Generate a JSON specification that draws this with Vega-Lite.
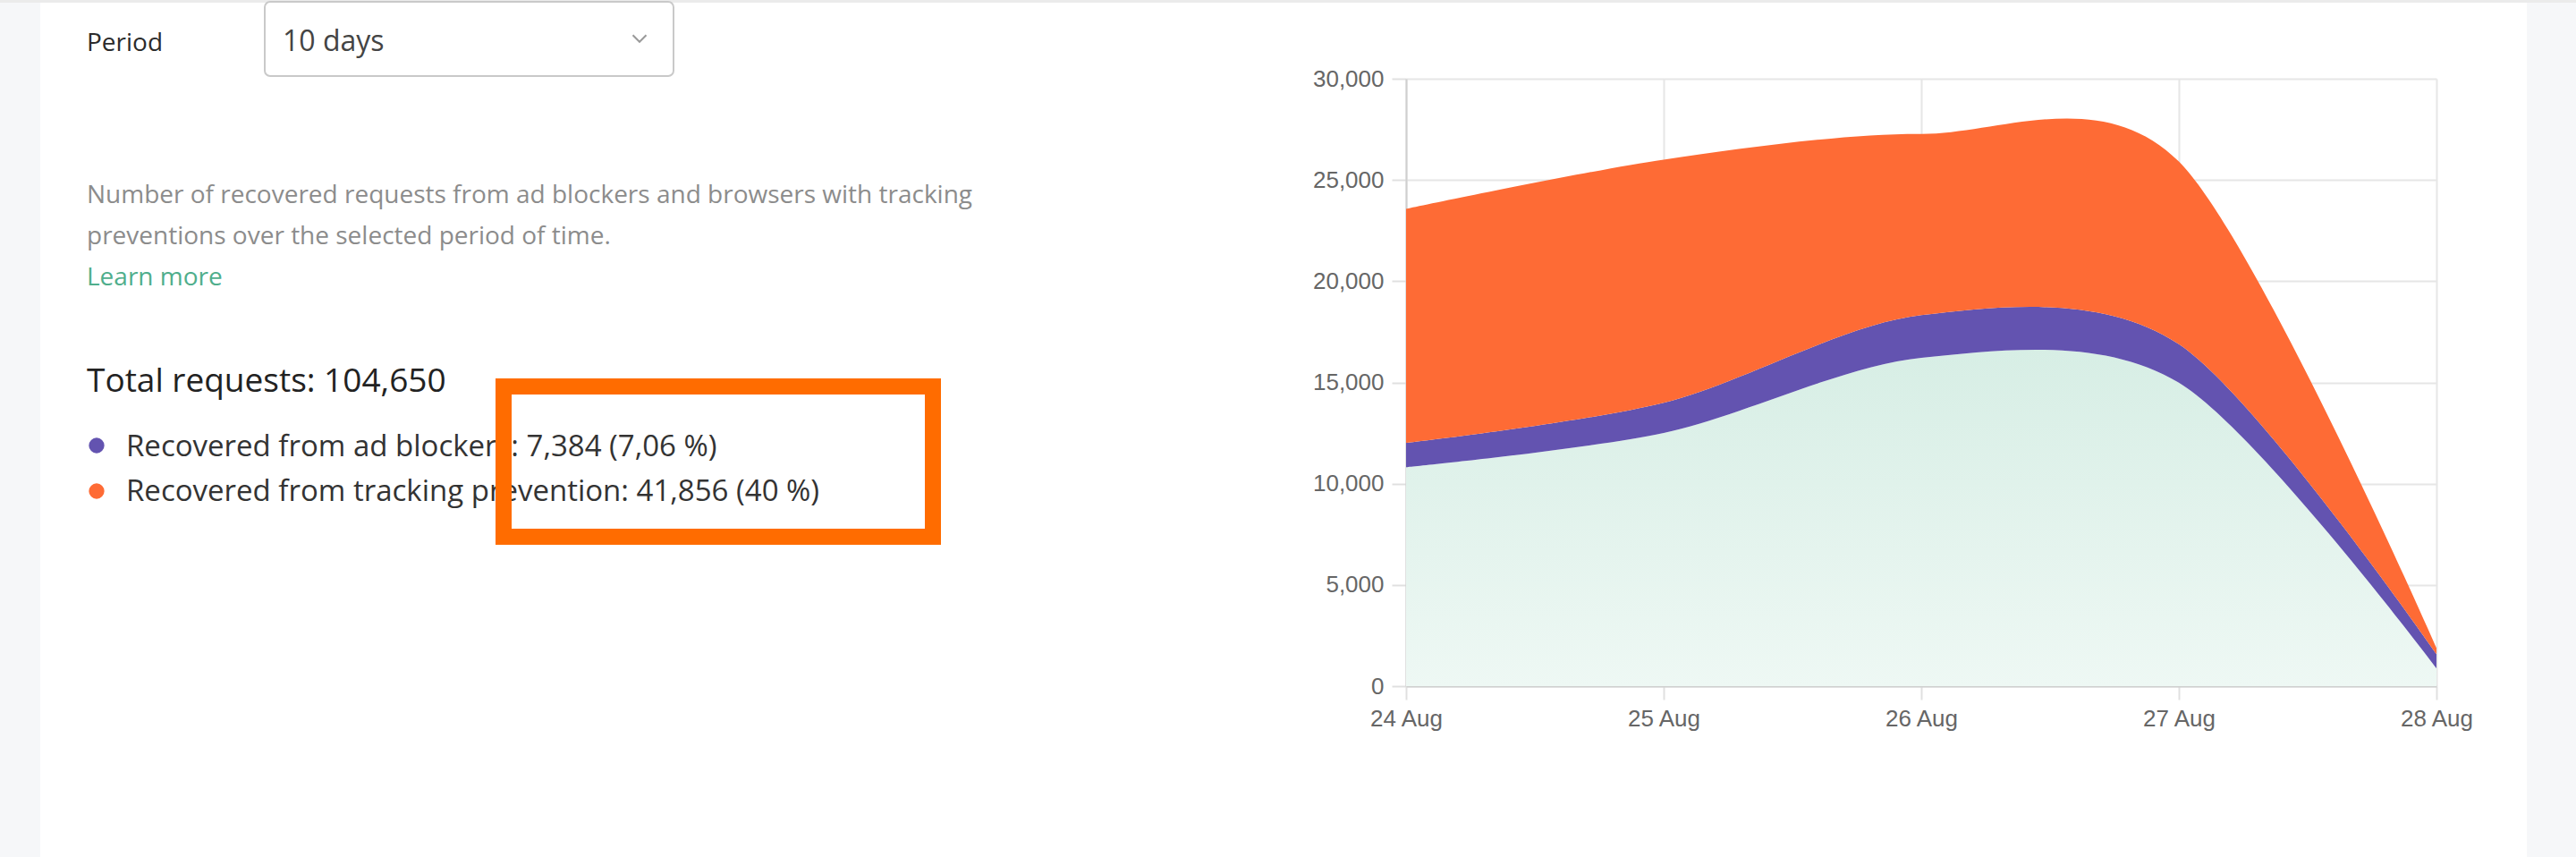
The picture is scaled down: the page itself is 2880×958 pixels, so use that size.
{
  "$schema": "https://vega.github.io/schema/vega-lite/v6.json",
  "background": "#ffffff",
  "autosize": {"type": "none"},
  "width": 1152,
  "height": 679,
  "padding": {"left": 1572, "top": 88, "right": 156, "bottom": 191},
  "config": {"view": {"stroke": null}},
  "datasets": {
    "traffic": [
      {"date": "2023-08-24T00:00:00", "series": "Other requests", "requests": 10812},
      {"date": "2023-08-25T00:00:00", "series": "Other requests", "requests": 12506},
      {"date": "2023-08-26T00:00:00", "series": "Other requests", "requests": 16218},
      {"date": "2023-08-27T00:00:00", "series": "Other requests", "requests": 14985},
      {"date": "2023-08-28T00:00:00", "series": "Other requests", "requests": 889},
      {"date": "2023-08-24T00:00:00", "series": "Recovered from ad blockers", "requests": 1195},
      {"date": "2023-08-25T00:00:00", "series": "Recovered from ad blockers", "requests": 1488},
      {"date": "2023-08-26T00:00:00", "series": "Recovered from ad blockers", "requests": 2104},
      {"date": "2023-08-27T00:00:00", "series": "Recovered from ad blockers", "requests": 1903},
      {"date": "2023-08-28T00:00:00", "series": "Recovered from ad blockers", "requests": 694},
      {"date": "2023-08-24T00:00:00", "series": "Recovered from tracking prevention", "requests": 11560},
      {"date": "2023-08-25T00:00:00", "series": "Recovered from tracking prevention", "requests": 12010},
      {"date": "2023-08-26T00:00:00", "series": "Recovered from tracking prevention", "requests": 8950},
      {"date": "2023-08-27T00:00:00", "series": "Recovered from tracking prevention", "requests": 9020},
      {"date": "2023-08-28T00:00:00", "series": "Recovered from tracking prevention", "requests": 316}
    ],
    "panel_text": [
      {"kind": "label", "text": "Period", "col": 2, "row": 4},
      {"kind": "select", "text": "10 days", "col": 6, "row": 4},
      {"kind": "description", "text": "Number of recovered requests from ad blockers and browsers with tracking", "col": 2, "row": 6},
      {"kind": "description", "text": "preventions over the selected period of time.", "col": 2, "row": 7},
      {"kind": "link", "text": "Learn more", "col": 2, "row": 8},
      {"kind": "total", "text": "Total requests: 104,650", "col": 2, "row": 10},
      {"kind": "stat", "text": "Recovered from ad blockers: 7,384 (7,06 %)", "col": 4, "row": 12},
      {"kind": "stat", "text": "Recovered from tracking prevention: 41,856 (40 %)", "col": 4, "row": 14}
    ],
    "panel_dots": [
      {"series": "Recovered from ad blockers", "col": 3, "row": 11},
      {"series": "Recovered from tracking prevention", "col": 3, "row": 13}
    ],
    "panel_boxes": [
      {"kind": "page-edge", "col": 0, "col2": 1, "row": 0, "row2": 16},
      {"kind": "page-edge", "col": 11, "col2": 12, "row": 0, "row2": 16},
      {"kind": "page-top", "col": 0, "col2": 12, "row": 0, "row2": 2},
      {"kind": "select-box", "col": 5, "col2": 9, "row": 1, "row2": 5},
      {"kind": "highlight", "col": 7, "col2": 10, "row": 9, "row2": 15}
    ],
    "panel_chevron": [
      {"kind": "chevron", "col": 8, "row": 3}
    ]
  },
  "layer": [
    {
      "data": {"name": "traffic"},
      "transform": [
        {"stack": "requests", "groupby": ["date"], "sort": [{"field": "series", "order": "ascending"}], "as": ["base", "top"]}
      ],
      "encoding": {
        "x": {
          "field": "date",
          "type": "temporal",
          "scale": {"nice": false},
          "axis": {
            "title": null,
            "format": "%d %b",
            "tickCount": {"interval": "day", "step": 1},
            "labelFlush": false,
            "labelOverlap": false,
            "grid": true,
            "gridColor": "#e6e6e6",
            "gridWidth": 2,
            "domainColor": "#cfcfcf",
            "domainWidth": 2,
            "tickColor": "#e0e0e0",
            "tickWidth": 2,
            "tickSize": 15,
            "labelPadding": 8,
            "labelFont": "Liberation Sans",
            "labelFontSize": 26,
            "labelColor": "#666666"
          }
        },
        "y": {
          "field": "top",
          "type": "quantitative",
          "stack": null,
          "scale": {"domain": [0, 30000], "nice": false},
          "axis": {
            "title": null,
            "values": [0, 5000, 10000, 15000, 20000, 25000, 30000],
            "format": ",d",
            "labelFlush": false,
            "grid": true,
            "gridColor": "#e6e6e6",
            "gridWidth": 2,
            "domainColor": "#cfcfcf",
            "domainWidth": 2,
            "tickColor": "#e0e0e0",
            "tickWidth": 2,
            "tickSize": 16,
            "labelPadding": 9,
            "labelFont": "Liberation Sans",
            "labelFontSize": 26,
            "labelColor": "#666666"
          }
        },
        "y2": {"field": "base"}
      },
      "layer": [
        {
          "transform": [{"filter": "datum.series === 'Other requests'"}],
          "mark": {
            "type": "area",
            "interpolate": "cardinal",
            "tension": 0.1,
            "color": {
              "gradient": "linear",
              "x1": 0, "y1": 0, "x2": 0, "y2": 1,
              "stops": [
                {"offset": 0, "color": "#d7eee5"},
                {"offset": 1, "color": "#eef8f4"}
              ]
            }
          }
        },
        {
          "transform": [{"filter": "datum.series !== 'Other requests'"}],
          "mark": {"type": "area", "interpolate": "cardinal", "tension": 0.1, "opacity": 1},
          "encoding": {
            "color": {
              "field": "series",
              "type": "nominal",
              "scale": {
                "domain": ["Recovered from ad blockers", "Recovered from tracking prevention"],
                "range": ["#6353b0", "#fe6b35"]
              },
              "legend": null
            }
          }
        }
      ]
    },
    {
      "encoding": {
        "x": {
          "field": "col",
          "type": "quantitative",
          "scale": {
            "domain": [0, 1, 2, 3, 4, 5, 6, 7, 8, 9, 10, 11, 12],
            "range": [-1572, -1527, -1475, -1464, -1431, -1276, -1256, -1009, -857, -819, -529, 1253, 1308],
            "nice": false,
            "zero": false
          },
          "axis": null
        },
        "y": {
          "field": "row",
          "type": "quantitative",
          "scale": {
            "domain": [0, 1, 2, 3, 4, 5, 6, 7, 8, 9, 10, 11, 12, 13, 14, 15, 16],
            "range": [-88, -86, -85, -45, -31, -3, 139, 185, 231, 344, 350, 410, 422, 461, 472, 512, 870],
            "nice": false,
            "zero": false
          },
          "axis": null
        }
      },
      "layer": [
        {
          "data": {"name": "panel_boxes"},
          "transform": [{"filter": "datum.kind === 'page-edge'"}],
          "mark": {"type": "rect", "color": "#f6f7f9"},
          "encoding": {"x2": {"field": "col2"}, "y2": {"field": "row2"}}
        },
        {
          "data": {"name": "panel_boxes"},
          "transform": [{"filter": "datum.kind === 'page-top'"}],
          "mark": {"type": "rect", "color": "#ebebeb"},
          "encoding": {"x2": {"field": "col2"}, "y2": {"field": "row2"}}
        },
        {
          "data": {"name": "panel_boxes"},
          "transform": [{"filter": "datum.kind === 'select-box'"}],
          "mark": {"type": "rect", "fill": "#ffffff", "stroke": "#c9c9c9", "strokeWidth": 2, "cornerRadius": 6},
          "encoding": {"x2": {"field": "col2"}, "y2": {"field": "row2"}}
        },
        {
          "data": {"name": "panel_chevron"},
          "mark": {"type": "point", "shape": "M-1,-0.5L0,0.5L1,-0.5", "filled": false, "color": "#9a9a9a", "strokeWidth": 2, "size": 225, "opacity": 1}
        },
        {
          "data": {"name": "panel_text"},
          "transform": [{"filter": "datum.kind === 'label'"}],
          "mark": {"type": "text", "align": "left", "baseline": "alphabetic", "font": "Open Sans", "fontSize": 28, "fontWeight": 500, "color": "#2b2b2b"},
          "encoding": {"text": {"field": "text"}}
        },
        {
          "data": {"name": "panel_text"},
          "transform": [{"filter": "datum.kind === 'select'"}],
          "mark": {"type": "text", "align": "left", "baseline": "alphabetic", "font": "Open Sans", "fontSize": 32, "color": "#444444"},
          "encoding": {"text": {"field": "text"}}
        },
        {
          "data": {"name": "panel_text"},
          "transform": [{"filter": "datum.kind === 'description'"}],
          "mark": {"type": "text", "align": "left", "baseline": "alphabetic", "font": "Open Sans", "fontSize": 28, "color": "#8c8c8c"},
          "encoding": {"text": {"field": "text"}}
        },
        {
          "data": {"name": "panel_text"},
          "transform": [{"filter": "datum.kind === 'link'"}],
          "mark": {"type": "text", "align": "left", "baseline": "alphabetic", "font": "Open Sans", "fontSize": 28, "color": "#4fae8c"},
          "encoding": {"text": {"field": "text"}}
        },
        {
          "data": {"name": "panel_text"},
          "transform": [{"filter": "datum.kind === 'total'"}],
          "mark": {"type": "text", "align": "left", "baseline": "alphabetic", "font": "Open Sans", "fontSize": 37, "fontWeight": 500, "color": "#222222"},
          "encoding": {"text": {"field": "text"}}
        },
        {
          "data": {"name": "panel_text"},
          "transform": [{"filter": "datum.kind === 'stat'"}],
          "mark": {"type": "text", "align": "left", "baseline": "alphabetic", "font": "Open Sans", "fontSize": 33, "color": "#333333"},
          "encoding": {"text": {"field": "text"}}
        },
        {
          "data": {"name": "panel_dots"},
          "mark": {"type": "circle", "size": 300, "opacity": 1},
          "encoding": {
            "color": {"field": "series", "type": "nominal", "legend": null}
          }
        },
        {
          "data": {"name": "panel_boxes"},
          "transform": [{"filter": "datum.kind === 'highlight'"}],
          "mark": {"type": "rect", "filled": false, "color": "#ff6c00", "strokeWidth": 18},
          "encoding": {"x2": {"field": "col2"}, "y2": {"field": "row2"}}
        }
      ]
    }
  ],
  "resolve": {"scale": {"x": "independent", "y": "independent"}}
}
